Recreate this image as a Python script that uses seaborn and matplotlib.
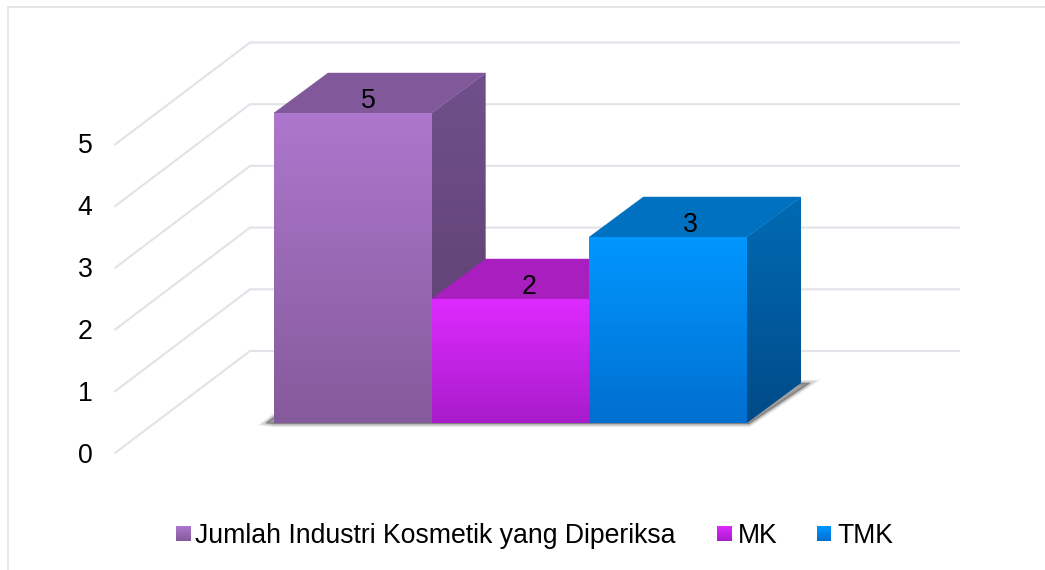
import numpy as np
import pandas as pd
import matplotlib
matplotlib.use('Agg')
import matplotlib.pyplot as plt
import seaborn as sns
from matplotlib.colors import LinearSegmentedColormap
from matplotlib.patches import Polygon

categories = ['Jumlah Industri Kosmetik yang Diperiksa', 'MK', 'TMK']
values = [5, 2, 3]
y_ticks = [0, 1, 2, 3, 4, 5]

# warna tiap batang: (atas, bawah)
front_colors = [('#AD77CD', '#855A9B'), ('#DE2AFF', '#A81CCB'), ('#0097FF', '#006FD0')]
side_colors = [('#70508A', '#5C3E6E'), ('#8A1AA0', '#70147F'), ('#006BB4', '#004A88')]
top_colors = ['#81599A', '#A81EBE', '#0070C0']

sns.set_theme(style='white')
plt.rcParams['font.family'] = ['Liberation Sans', 'DejaVu Sans']

W, H = 1045, 570
PX_X = 157.67  # piksel per kategori
PX_Y = 62.0    # piksel per nilai
x0 = -0.5 - 274 / PX_X
y0 = -(H - 423) / PX_Y


def px(x, y):
    """Piksel gambar -> koordinat data."""
    return x0 + x / PX_X, y0 + (H - y) / PX_Y


fig = plt.figure(figsize=(W / 100, H / 100), dpi=100)
ax = fig.add_axes([0, 0, 1, 1])

df = pd.DataFrame({'kategori': categories, 'jumlah': values})
sns.barplot(data=df, x='kategori', y='jumlah', hue='kategori', palette=[c[0] for c in front_colors],
            width=1, legend=False, ax=ax, zorder=1, linewidth=0)
bars = list(ax.patches)


def gradient(extent, c_top, c_bottom, zorder, clip=None):
    cmap = LinearSegmentedColormap.from_list('g', [c_top, c_bottom])
    im = ax.imshow(np.linspace(0, 1, 256)[:, None], extent=extent, cmap=cmap, aspect='auto',
                   origin='upper', zorder=zorder, interpolation='bilinear')
    if clip is not None:
        im.set_clip_path(clip)
    return im


# bingkai
ax.plot(*zip(px(8, H), px(8, 7), px(W, 7)), color='#E6E6EA', lw=1.4, zorder=1)

# dinding dan garis bantu
depth_x, depth_y = 135 / PX_X, 102 / PX_Y
for v in y_ticks:
    fx, fy = px(115, 453 - 61.7 * v)
    bx, by = fx + depth_x, fy + depth_y
    ex = px(959, 0)[0]
    ax.plot([fx, bx, ex], [fy, by, by], color='#E2E2E9', lw=1.5, zorder=1, solid_joinstyle='miter')
    ty = px(0, 453 - 62 * v)[1]
    ax.text(px(85, 0)[0], ty, str(v), ha='center', va='center_baseline', fontsize=19.2, color='black', zorder=9)

# batang 3D
dx, dy = 54 / PX_X, 40 / PX_Y
left, right = bars[0].get_x(), bars[-1].get_x() + bars[-1].get_width()

# bayangan di lantai
for grow in [4.5, 3.5, 2.5, 1.8, 1.2, 0.6, 0.1]:
    sh = Polygon([(left - 8 / PX_X, 0), (left, 6 / PX_Y), (right + dx, dy), (right + dx + 9 / PX_X, dy),
                  (right + 2 / PX_X, -1 / PX_Y), (left, -1 / PX_Y)], closed=True, fc='#505050', ec='#505050',
                 lw=grow, alpha=0.09, zorder=1.5)
    ax.add_patch(sh)

for i, bar in enumerate(bars):
    x1, x2 = bar.get_x(), bar.get_x() + bar.get_width()
    v = bar.get_height()
    z = 3 + i
    gradient((x1, x2, 0, v), *front_colors[i], z + 0.2)
    side = Polygon([(x2, 0), (x2 + dx, dy), (x2 + dx, v + dy), (x2, v)], closed=True, fc='none', ec='none')
    ax.add_patch(side)
    gradient((x2, x2 + dx, 0, v + dy), *side_colors[i], z, clip=side)
    ax.add_patch(Polygon([(x1, v), (x1 + dx, v + dy), (x2 + dx, v + dy), (x2, v)], closed=True,
                         fc=top_colors[i], ec=top_colors[i], lw=0.3, zorder=z + 0.1))
    ax.text((x1 + x2) / 2 + (15.5 + 3.5 * i) / PX_X, v + 15 / PX_Y, str(values[i]), ha='center',
            va='center_baseline', fontsize=19.2, color='black', zorder=9)

# legenda
legend_x = [(176, 190, 195), (717, 732, 738), (817, 831, 837)]
for i, (a, b, t) in enumerate(legend_x):
    xa, ya = px(a, 541)
    xb, yb = px(b, 526)
    gradient((xa, xb, ya, yb), *front_colors[i], 8)
    tx, ty = px(t, 533)
    ax.text(tx, ty, categories[i], ha='left', va='center_baseline', fontsize=19.2, color='black', zorder=9)

ax.set_xlim(x0, x0 + W / PX_X)
ax.set_ylim(y0, y0 + H / PX_Y)
ax.axis('off')
fig.savefig('out.png', dpi=100, facecolor='white')
